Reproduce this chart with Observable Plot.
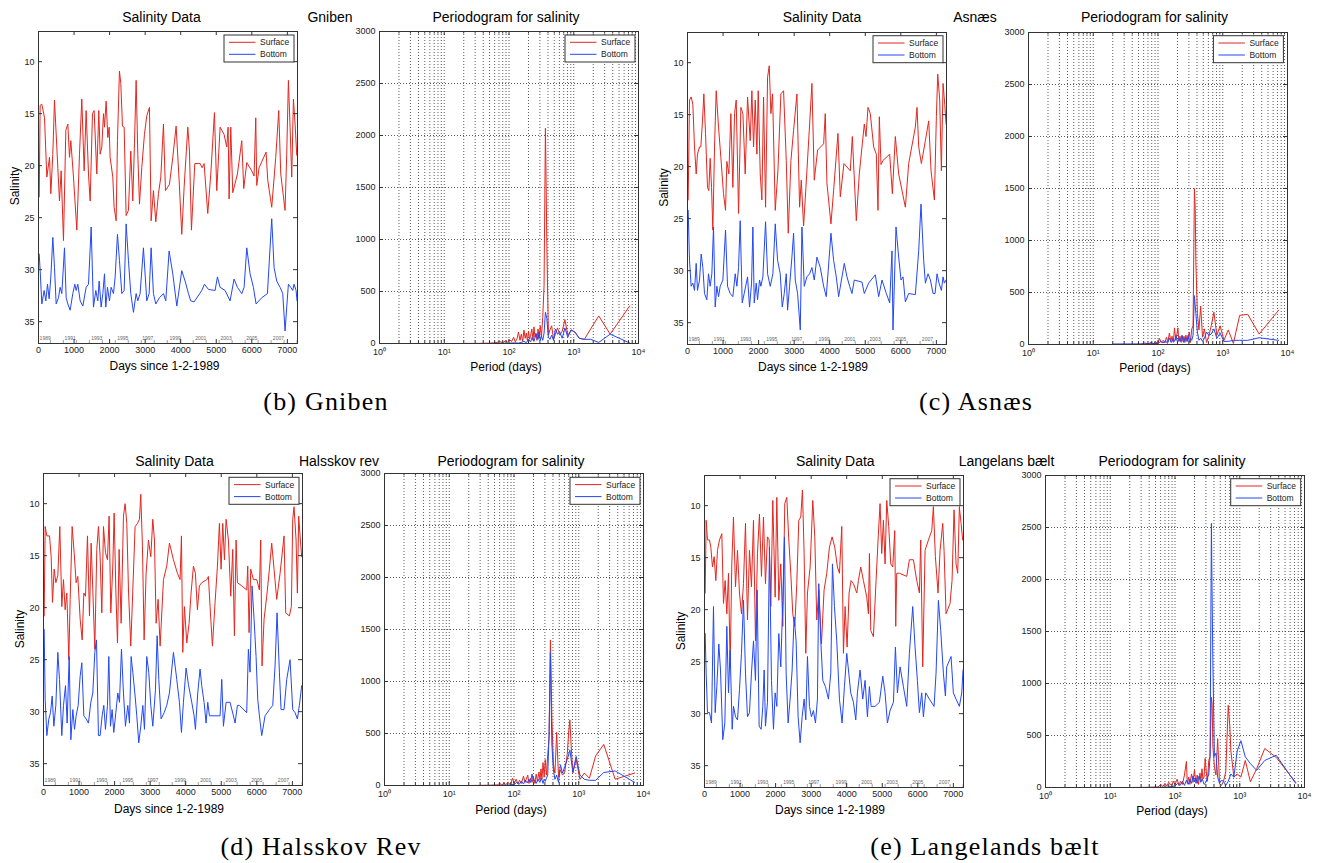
<!DOCTYPE html>
<html><head><meta charset="utf-8">
<script src="https://cdn.jsdelivr.net/npm/d3@7"></script>
<script src="https://cdn.jsdelivr.net/npm/@observablehq/plot@0.6"></script>
<style>
html,body{margin:0;padding:0;background:#fff;}
#root{position:relative;width:1317px;height:863px;overflow:hidden;background:#fff;}
.p{position:absolute;}
#overlay{position:absolute;left:0;top:0;pointer-events:none;}
</style></head><body><div id="root"></div>
<script>
// ---------- tick / label data ----------
const dayTicks = [0,1000,2000,3000,4000,5000,6000,7000];
const salTicks = [10,15,20,25,30,35];
const powerTicks = [0,500,1000,1500,2000,2500,3000];
const periodTicks = [1,10,100,1000,10000];
const periodTickLabels = ["10⁰","10¹","10²","10³","10⁴"];
const periodMinor = [2,3,4,5,6,7,8,9,20,30,40,50,60,70,80,90,200,300,400,500,600,700,800,900,2000,3000,4000,5000,6000,7000,8000,9000];
const yearStartDays = [334,699,1064,1430,1795,2160,2525,2891,3256,3621,3986,4352,4717,5082,5447,5813,6178,6543,6908,7274];
const yearLabels = ["1989","1991","1993","1995","1997","1999","2001","2003","2005","2007"];
const yearLabelDays = [188,891,1640,2371,3074,3843,4565,5277,5999,6748];
const seriesNames = ["Surface","Bottom"];

// ---------- Gniben ----------
const gnibenSurface = [[20,23.0],[47,14.2],[94,14.1],[169,15.4],[234,21.1],[310,19.2],[347,22.7],[403,18.9],[450,13.7],[515,18.2],[590,23.4],[637,20.5],[703,27.2],[769,16.6],[825,16.0],[872,19.2],[909,17.6],[984,21.1],[1078,26.2],[1153,18.9],[1218,13.6],[1284,20.5],[1340,14.7],[1406,20.8],[1453,23.4],[1518,15.0],[1565,14.7],[1640,20.8],[1696,14.7],[1734,18.9],[1781,18.2],[1828,15.0],[1856,16.3],[1903,13.8],[1950,17.3],[1987,16.3],[2015,19.2],[2090,21.1],[2127,24.0],[2184,25.3],[2221,17.6],[2277,10.9],[2315,12.1],[2362,16.2],[2409,16.3],[2465,24.8],[2530,24.3],[2596,18.6],[2652,23.4],[2699,17.9],[2746,11.8],[2793,18.9],[2840,23.7],[2905,20.2],[2980,17.0],[3046,15.2],[3121,14.4],[3168,25.3],[3233,22.4],[3299,25.4],[3374,22.7],[3440,21.1],[3515,16.0],[3571,22.4],[3683,21.8],[3777,19.2],[3871,16.2],[3955,21.4],[4030,26.6],[4096,22.1],[4199,16.3],[4246,18.6],[4302,26.2],[4396,19.8],[4546,19.8],[4602,20.2],[4658,19.8],[4761,24.6],[4846,20.8],[4949,14.9],[5014,22.4],[5108,16.3],[5220,17.0],[5295,18.2],[5333,16.3],[5361,23.2],[5408,16.3],[5464,22.6],[5595,20.8],[5717,17.6],[5773,22.2],[5858,19.7],[5998,20.5],[6064,21.0],[6111,15.4],[6139,21.9],[6204,20.2],[6401,18.7],[6448,21.4],[6560,24.0],[6673,19.2],[6757,14.7],[6814,20.8],[6935,24.3],[6982,18.9],[7029,11.8],[7076,16.3],[7123,21.1],[7170,13.6],[7217,16.0],[7264,19.0]];
const gnibenBottom = [[20,28.5],[47,30.1],[94,33.3],[159,32.0],[206,33.0],[253,31.4],[300,32.8],[347,30.7],[403,26.9],[450,29.8],[497,33.3],[562,32.7],[609,31.7],[656,32.3],[731,27.9],[778,32.7],[825,33.3],[890,33.9],[965,32.3],[1022,31.4],[1059,32.0],[1106,31.4],[1172,33.0],[1247,33.5],[1340,31.7],[1406,31.4],[1481,25.9],[1546,33.6],[1612,32.0],[1668,33.0],[1706,31.1],[1762,33.6],[1809,32.3],[1856,30.4],[1893,33.6],[1940,31.7],[1996,33.0],[2043,31.7],[2109,32.3],[2156,30.7],[2221,26.6],[2277,29.1],[2343,32.3],[2409,32.0],[2465,25.6],[2530,29.1],[2596,32.3],[2671,34.1],[2746,32.3],[2793,33.0],[2858,32.3],[2952,27.9],[3046,33.0],[3112,32.3],[3168,27.9],[3233,32.3],[3299,33.3],[3402,32.7],[3515,32.3],[3580,33.0],[3674,28.2],[3777,30.4],[3890,33.5],[4030,30.1],[4124,31.1],[4218,32.3],[4283,33.0],[4377,33.1],[4593,32.0],[4668,31.4],[4780,31.9],[4967,32.0],[5033,30.7],[5108,31.7],[5248,32.0],[5389,33.0],[5501,30.9],[5595,31.7],[5717,32.3],[5783,31.7],[5858,27.9],[5951,30.4],[6045,31.7],[6120,33.3],[6279,32.7],[6439,32.3],[6560,25.1],[6626,29.8],[6701,31.1],[6795,31.7],[6870,32.3],[6935,35.9],[6982,33.6],[7029,31.4],[7095,31.7],[7151,32.0],[7189,31.4],[7245,32.0],[7273,33.0]];
const gnibenPerSurface = [[20,1],[30,1],[40,2],[50,3],[57,5],[65,10],[72,18],[80,8],[88,25],[95,12],[102,35],[110,20],[118,60],[125,15],[133,45],[140,110],[148,30],[155,90],[163,20],[170,130],[178,50],[185,100],[193,25],[200,120],[208,40],[215,70],[225,140],[235,30],[243,160],[252,60],[261,100],[270,30],[281,140],[292,50],[304,170],[317,60],[332,250],[348,560],[365,2070],[372,1700],[384,950],[406,80],[429,130],[456,170],[487,40],[521,90],[562,150],[608,80],[664,120],[730,230],[811,80],[912,130],[1043,110],[1217,50],[1460,40],[1825,140],[2433,265],[3650,90],[7300,360]];
const gnibenPerBottom = [[20,0],[40,0],[60,1],[80,2],[100,3],[120,6],[140,4],[155,10],[170,20],[185,8],[200,40],[215,15],[228,60],[243,20],[261,90],[281,40],[292,110],[304,30],[317,70],[332,30],[348,100],[365,300],[384,240],[406,60],[429,40],[456,80],[487,30],[521,140],[562,90],[608,110],[664,50],[730,150],[811,60],[912,130],[1043,110],[1217,50],[1460,40],[1825,40],[2433,10],[3650,90],[7300,5]];

// ---------- Asnæs ----------
const asnaesSurface = [[19,23.2],[56,13.6],[103,13.3],[150,14.0],[197,18.1],[244,20.7],[281,18.8],[338,18.1],[375,18.1],[422,15.6],[460,13.0],[507,16.8],[563,22.0],[600,22.3],[638,19.2],[676,22.0],[713,26.1],[760,18.1],[807,12.7],[873,16.2],[938,19.1],[1013,22.6],[1070,24.2],[1107,19.5],[1163,20.7],[1220,14.9],[1276,22.0],[1323,14.9],[1370,13.6],[1436,24.5],[1501,14.3],[1558,14.9],[1623,20.7],[1689,13.3],[1764,17.5],[1811,12.7],[1858,18.1],[1905,13.6],[1952,18.8],[1989,12.7],[2046,20.7],[2092,23.2],[2139,13.3],[2196,23.9],[2252,11.4],[2299,10.3],[2346,14.9],[2393,13.0],[2468,24.2],[2543,20.4],[2627,13.0],[2702,12.7],[2778,19.4],[2834,26.4],[2909,19.4],[2984,16.5],[3078,13.0],[3153,23.9],[3200,21.3],[3265,25.7],[3331,22.0],[3425,16.5],[3500,12.0],[3566,21.3],[3660,18.4],[3829,17.8],[3875,14.9],[3922,21.6],[4035,25.5],[4110,22.3],[4232,16.8],[4298,22.9],[4401,19.7],[4579,20.4],[4636,17.1],[4748,25.2],[4832,20.7],[4917,17.8],[4973,15.9],[5020,17.1],[5077,14.3],[5142,14.9],[5236,18.1],[5311,18.8],[5358,24.2],[5396,15.2],[5443,19.8],[5499,19.4],[5687,18.8],[5762,22.6],[5846,17.1],[5940,20.7],[6128,23.9],[6221,19.7],[6409,16.2],[6456,14.3],[6503,18.1],[6578,19.7],[6691,17.5],[6784,15.6],[6850,20.4],[6944,23.2],[7000,15.2],[7038,11.1],[7094,13.6],[7141,20.4],[7188,12.0],[7235,14.0],[7273,15.9]];
const asnaesBottom = [[19,24.2],[56,29.0],[103,31.5],[150,31.2],[197,31.9],[244,29.3],[281,31.9],[338,30.9],[385,28.4],[432,29.7],[479,32.2],[544,32.8],[591,30.3],[638,31.5],[685,30.3],[732,25.8],[779,33.5],[826,31.5],[873,32.5],[920,31.5],[995,30.9],[1070,26.1],[1126,31.5],[1201,32.2],[1276,32.5],[1342,30.3],[1389,31.5],[1436,29.7],[1482,25.2],[1539,33.1],[1595,32.2],[1689,30.6],[1745,33.5],[1802,31.2],[1839,25.8],[1877,33.1],[1933,31.2],[1970,32.8],[2027,30.9],[2064,31.5],[2120,30.6],[2196,25.3],[2252,30.3],[2327,31.5],[2402,30.3],[2468,25.5],[2534,29.0],[2608,30.3],[2665,33.5],[2721,32.2],[2778,30.3],[2815,33.8],[2871,31.5],[2937,28.7],[2984,26.4],[3031,30.9],[3097,32.2],[3172,35.7],[3219,25.8],[3284,31.5],[3359,30.6],[3434,30.3],[3500,29.7],[3566,30.9],[3641,28.7],[3735,29.7],[3829,31.5],[3903,32.5],[4035,26.4],[4110,29.0],[4185,30.6],[4251,32.5],[4345,30.6],[4411,29.3],[4486,30.6],[4561,31.5],[4626,32.2],[4692,30.9],[4908,31.1],[4973,32.2],[5095,31.2],[5283,30.4],[5377,32.5],[5471,30.9],[5593,32.2],[5687,33.1],[5752,28.1],[5780,35.7],[5865,25.8],[5940,28.7],[6006,30.9],[6062,30.6],[6128,33.0],[6221,32.2],[6409,32.3],[6503,28.1],[6568,23.6],[6643,29.0],[6691,31.2],[6766,30.3],[6832,30.9],[6907,32.2],[6963,32.2],[7019,30.3],[7075,31.2],[7141,31.9],[7188,30.6],[7225,31.2],[7273,30.9]];
const asnaesPerSurface = [[20,0],[40,1],[55,3],[62,15],[70,5],[78,20],[85,8],[92,25],[100,10],[105,60],[112,20],[120,40],[128,15],[135,70],[142,25],[150,110],[158,30],[165,80],[172,20],[180,160],[188,40],[195,90],[203,160],[210,30],[218,80],[228,20],[235,80],[243,30],[252,80],[261,20],[270,90],[281,30],[292,70],[304,120],[317,20],[332,150],[348,180],[365,1500],[376,1300],[384,800],[406,300],[429,140],[456,370],[487,70],[521,150],[562,20],[608,80],[664,180],[730,310],[811,90],[912,180],[1043,40],[1217,140],[1460,10],[1825,280],[2433,290],[3650,100],[7300,330]];
const asnaesPerBottom = [[20,5],[40,5],[60,5],[80,8],[100,10],[110,30],[120,15],[130,40],[140,10],[150,60],[160,20],[170,50],[180,30],[190,90],[200,20],[210,60],[220,30],[235,90],[250,20],[265,70],[281,30],[292,90],[304,20],[317,60],[332,40],[348,90],[365,470],[384,300],[406,120],[429,40],[456,60],[487,30],[521,60],[562,120],[608,90],[664,100],[730,150],[811,60],[912,110],[1043,30],[1217,30],[1460,40],[1825,40],[2433,40],[3650,65],[7300,40]];

// ---------- Halsskov rev ----------
const halsskovSurface = [[19,20.8],[47,12.2],[94,13.1],[169,13.1],[216,15.1],[253,19.5],[300,16.3],[347,17.6],[403,16.9],[459,12.2],[515,19.9],[562,17.3],[609,20.2],[656,18.6],[712,25.0],[750,19.2],[806,12.2],[862,14.7],[918,17.6],[965,17.0],[1031,21.1],[1087,23.1],[1134,18.6],[1181,18.9],[1237,13.1],[1293,20.8],[1340,13.8],[1387,18.3],[1443,24.0],[1499,14.4],[1546,12.2],[1593,15.1],[1640,20.5],[1687,12.2],[1743,14.7],[1799,15.4],[1846,11.2],[1893,20.5],[1949,16.0],[1987,10.9],[2034,18.3],[2081,23.4],[2127,14.4],[2184,21.5],[2249,11.2],[2296,10.0],[2343,11.9],[2390,18.3],[2455,23.7],[2512,18.3],[2577,12.2],[2643,11.9],[2699,11.5],[2736,9.1],[2783,14.1],[2830,23.1],[2886,16.7],[2952,13.5],[3018,15.1],[3074,11.5],[3121,13.5],[3168,21.5],[3224,19.2],[3280,23.7],[3374,17.3],[3467,16.0],[3542,13.8],[3655,15.4],[3767,16.7],[3842,17.3],[3880,13.1],[3917,24.3],[3964,19.9],[4030,23.4],[4095,21.5],[4151,18.6],[4217,16.0],[4273,16.7],[4329,20.2],[4385,17.9],[4451,17.6],[4592,17.3],[4638,17.0],[4685,19.9],[4751,23.7],[4826,19.5],[4892,16.0],[4948,11.9],[4995,16.3],[5042,11.9],[5089,15.4],[5136,11.5],[5201,13.5],[5267,18.9],[5323,14.4],[5370,22.7],[5417,13.5],[5454,17.6],[5576,17.9],[5716,18.3],[5745,16.0],[5782,22.4],[5829,16.3],[5904,17.3],[5998,17.3],[6073,18.3],[6110,13.5],[6147,25.6],[6204,21.1],[6279,18.9],[6354,16.3],[6419,13.8],[6485,16.3],[6560,19.2],[6654,16.7],[6766,13.1],[6813,20.5],[6916,20.8],[6972,19.9],[7010,11.5],[7047,10.3],[7104,13.5],[7141,18.6],[7178,11.2],[7225,13.5],[7262,15.1]];
const halsskovBottom = [[19,22.1],[47,28.8],[94,32.3],[150,30.7],[197,30.1],[244,28.5],[291,31.4],[347,29.4],[403,24.3],[450,26.9],[515,32.3],[562,29.4],[619,27.5],[665,31.1],[722,24.7],[769,32.7],[825,29.8],[872,31.7],[918,30.4],[975,29.4],[1031,26.6],[1078,25.3],[1134,30.4],[1200,30.7],[1265,31.1],[1331,29.1],[1387,28.2],[1443,24.3],[1490,23.1],[1546,32.3],[1593,32.3],[1649,30.4],[1696,29.4],[1743,31.7],[1799,29.4],[1837,24.7],[1884,31.4],[1930,29.8],[1977,32.0],[2034,30.1],[2090,28.2],[2137,29.1],[2193,24.0],[2249,28.2],[2305,31.4],[2371,29.4],[2418,31.1],[2465,24.7],[2512,26.2],[2577,28.5],[2624,30.4],[2680,33.0],[2736,31.4],[2793,29.4],[2840,31.7],[2905,24.7],[2961,26.2],[3018,29.4],[3074,31.4],[3149,27.9],[3196,22.7],[3243,26.9],[3308,30.7],[3393,30.1],[3467,29.4],[3542,28.2],[3655,24.3],[3748,26.9],[3823,29.1],[3880,32.0],[3936,29.1],[4011,25.8],[4077,27.4],[4170,29.1],[4236,30.4],[4273,31.7],[4339,28.2],[4404,25.9],[4451,27.5],[4517,29.1],[4573,31.1],[4620,29.1],[4667,30.4],[4967,30.4],[5014,26.9],[5061,31.4],[5136,29.1],[5248,29.1],[5342,30.4],[5389,31.1],[5454,29.4],[5510,29.4],[5716,30.1],[5763,24.0],[5810,26.2],[5866,17.9],[5923,21.1],[5979,24.7],[6026,28.8],[6073,30.4],[6138,32.3],[6232,30.4],[6354,29.8],[6448,29.4],[6513,25.6],[6569,20.5],[6635,26.2],[6682,29.8],[6766,29.8],[6841,26.9],[6935,25.0],[7010,29.8],[7076,30.1],[7141,30.7],[7197,29.4],[7262,27.5]];
const halsskovPerSurface = [[20,0],[40,2],[55,5],[60,20],[65,5],[70,25],[75,8],[80,30],[88,10],[95,70],[100,20],[108,60],[115,15],[122,50],[130,20],[140,90],[148,30],[155,60],[163,100],[170,20],[180,70],[190,30],[200,80],[210,20],[220,110],[230,40],[243,130],[252,50],[261,160],[270,60],[281,220],[292,80],[304,250],[317,100],[332,300],[348,450],[365,1400],[384,660],[406,200],[429,120],[456,510],[487,80],[521,150],[562,100],[608,130],[664,300],[700,520],[730,630],[760,400],[811,120],[912,250],[1043,60],[1217,120],[1460,70],[1825,285],[2433,395],[3650,60],[7300,120]];
const halsskovPerBottom = [[20,0],[60,1],[80,3],[100,10],[110,30],[120,10],[130,40],[140,15],[150,50],[160,25],[170,60],[180,30],[190,110],[200,40],[210,50],[220,20],[235,60],[250,30],[265,70],[281,20],[292,60],[304,40],[317,70],[332,100],[348,500],[365,1280],[384,400],[406,150],[429,60],[456,100],[487,30],[521,200],[562,120],[608,180],[664,250],[730,340],[811,130],[912,280],[1043,100],[1217,60],[1460,50],[1825,50],[2433,125],[3650,140],[7300,30]];

// ---------- Langelands bælt ----------
const langelandSurface = [[19,18.4],[47,11.4],[84,13.3],[141,13.3],[178,14.0],[225,15.9],[272,14.9],[319,17.2],[365,14.3],[422,13.3],[487,12.7],[534,19.4],[581,17.2],[628,20.4],[675,16.5],[722,25.5],[768,15.6],[815,11.1],[872,17.8],[928,14.3],[984,18.4],[1040,20.4],[1096,17.5],[1153,11.7],[1209,21.0],[1265,14.3],[1321,17.8],[1378,11.4],[1434,23.0],[1490,14.6],[1546,10.8],[1602,16.8],[1659,11.1],[1715,17.5],[1771,13.0],[1818,13.3],[1865,19.7],[1921,9.5],[1987,18.8],[2034,9.2],[2090,19.1],[2146,15.6],[2202,21.6],[2258,9.8],[2315,9.2],[2371,13.3],[2427,16.5],[2483,20.4],[2540,21.6],[2596,17.5],[2652,11.4],[2708,11.1],[2755,8.5],[2802,14.6],[2849,24.2],[2896,18.4],[2971,15.9],[3046,9.5],[3102,13.0],[3158,21.0],[3215,18.1],[3289,23.3],[3364,18.1],[3439,16.5],[3514,14.0],[3589,13.0],[3664,14.0],[3739,15.9],[3795,16.5],[3861,12.0],[3908,24.2],[3955,19.7],[4011,23.6],[4067,18.4],[4123,17.2],[4189,17.5],[4283,18.4],[4329,17.2],[4395,15.9],[4470,17.2],[4564,18.8],[4611,20.4],[4639,14.6],[4676,22.0],[4751,22.6],[4826,17.2],[4882,13.3],[4938,9.8],[4985,14.6],[5032,11.4],[5079,15.6],[5126,9.5],[5182,12.0],[5239,15.6],[5295,15.9],[5351,12.4],[5379,21.6],[5407,16.5],[5482,16.5],[5688,16.8],[5763,15.2],[5876,15.2],[5970,17.2],[6045,18.4],[6082,13.3],[6138,25.5],[6204,14.3],[6298,13.3],[6392,12.4],[6438,10.1],[6494,14.9],[6569,18.4],[6626,14.3],[6701,11.7],[6738,14.3],[6794,20.4],[6907,19.4],[6963,17.2],[7019,10.4],[7075,15.6],[7122,16.5],[7169,10.1],[7216,11.7],[7262,13.3]];
const langelandBottom = [[19,22.3],[47,26.1],[84,29.9],[141,29.9],[197,30.9],[253,19.7],[300,29.9],[347,27.4],[403,23.3],[450,25.8],[515,32.5],[572,30.9],[628,21.6],[675,28.0],[722,23.9],[778,31.5],[815,29.3],[872,30.3],[928,30.6],[984,27.7],[1040,24.2],[1097,19.1],[1153,26.1],[1209,30.3],[1265,29.9],[1321,26.1],[1378,23.0],[1434,26.8],[1481,18.1],[1537,31.2],[1593,31.5],[1640,29.3],[1678,25.8],[1715,31.2],[1771,28.9],[1827,14.0],[1884,26.8],[1940,31.5],[1987,28.0],[2034,29.3],[2090,22.3],[2146,25.5],[2202,19.1],[2249,13.0],[2296,26.1],[2352,30.9],[2408,28.6],[2465,25.8],[2521,20.7],[2577,23.0],[2633,30.3],[2690,32.8],[2746,30.3],[2802,28.6],[2849,30.6],[2896,24.5],[2952,29.3],[3008,30.3],[3064,29.7],[3121,30.9],[3177,28.6],[3214,17.5],[3271,23.0],[3327,26.8],[3402,27.4],[3486,28.6],[3552,26.1],[3599,15.6],[3655,19.7],[3720,23.0],[3795,28.6],[3870,30.9],[3936,27.4],[4002,24.2],[4058,26.1],[4114,28.0],[4189,28.9],[4255,30.6],[4301,28.0],[4376,25.8],[4451,28.6],[4517,26.8],[4583,30.3],[4639,27.4],[4686,29.3],[4798,29.3],[4920,28.9],[5014,26.4],[5079,28.0],[5145,30.9],[5220,29.7],[5314,28.9],[5370,23.6],[5426,28.0],[5501,25.5],[5595,27.4],[5688,29.3],[5763,24.2],[5857,19.7],[5923,23.6],[5988,26.8],[6045,29.9],[6110,28.0],[6157,30.3],[6223,28.0],[6326,28.6],[6457,29.3],[6513,26.1],[6579,19.1],[6644,22.0],[6719,26.1],[6776,28.3],[6813,25.5],[6935,24.5],[7000,28.0],[7075,28.6],[7169,29.3],[7235,28.0],[7272,25.8]];
const langelandPerSurface = [[20,0],[40,1],[55,5],[60,30],[65,10],[70,40],[75,15],[80,50],[88,20],[95,60],[100,30],[108,80],[115,20],[122,60],[130,30],[140,120],[150,250],[155,40],[163,100],[170,30],[180,130],[190,50],[200,170],[210,40],[220,120],[230,30],[243,140],[252,60],[261,180],[270,80],[281,100],[292,280],[304,150],[317,60],[332,260],[348,300],[365,870],[375,800],[384,400],[406,200],[429,120],[456,470],[487,40],[521,20],[562,60],[608,150],[664,790],[700,600],[730,350],[811,100],[912,130],[1043,100],[1217,260],[1460,55],[1825,180],[2433,375],[3650,290],[7300,50]];
const langelandPerBottom = [[20,0],[60,2],[80,5],[100,15],[110,40],[120,20],[130,60],[140,20],[150,70],[160,30],[170,80],[180,40],[190,110],[200,60],[210,90],[220,40],[235,110],[250,50],[265,80],[281,30],[292,40],[304,60],[317,100],[332,120],[348,300],[365,2540],[372,1990],[384,1230],[406,300],[429,330],[456,100],[487,40],[521,70],[562,60],[608,20],[664,60],[730,130],[811,100],[912,350],[1043,450],[1217,295],[1460,230],[1825,165],[2433,260],[3650,310],[7300,40]];

// ---------- layout ----------
const RED = "#e5261f", BLUE = "#2347f5";
const FW = 259, FH = 312, ML = 45, MR = 12, MT = 10, MB = 30;
const FONT = "'Liberation Sans', Arial, Helvetica, sans-serif";
const root = document.getElementById("root");

function place(svg, L, T) {
  const d = document.createElement("div");
  d.className = "p";
  d.style.left = (L - ML) + "px";
  d.style.top = (T - MT) + "px";
  d.appendChild(svg);
  root.appendChild(d);
}

function salinityPlot(surface, bottom) {
  return Plot.plot({
    width: FW + ML + MR, height: FH + MT + MB,
    marginLeft: ML, marginRight: MR, marginTop: MT, marginBottom: MB,
    style: {background: "transparent", fontFamily: FONT, fontSize: "9px", color: "#222", overflow: "visible"},
    x: {domain: [0, 7285]},
    y: {domain: [7.1, 37.1], reverse: true},
    marks: [
      Plot.line(surface, {x: d => d[0], y: d => d[1], stroke: RED, strokeWidth: 1}),
      Plot.line(bottom, {x: d => d[0], y: d => d[1], stroke: BLUE, strokeWidth: 1}),
      Plot.tickX(yearStartDays, {x: d => d, insetTop: FH - 3, stroke: "#777", strokeWidth: 0.7}),
      Plot.text(yearLabels, {x: (d, i) => yearLabelDays[i], text: d => d, frameAnchor: "bottom", lineAnchor: "bottom", dy: -4, fontSize: 5, fill: "#666"}),
      Plot.tickX(dayTicks, {x: d => d, insetTop: FH - 4, stroke: "#333"}),
      Plot.tickX(dayTicks, {x: d => d, insetBottom: FH - 4, stroke: "#333"}),
      Plot.tickY(salTicks, {y: d => d, insetRight: FW - 4, stroke: "#333"}),
      Plot.tickY(salTicks, {y: d => d, insetLeft: FW - 4, stroke: "#333"}),
      Plot.axisX({ticks: dayTicks, tickSize: 0, tickPadding: 3, tickFormat: d => String(d), label: null}),
      Plot.axisY({ticks: salTicks, tickSize: 0, tickPadding: 4, tickFormat: d => String(d), label: null}),
      Plot.frame({stroke: "#333"})
    ]
  });
}

function periodogramPlot(surface, bottom) {
  return Plot.plot({
    width: FW + ML + MR, height: FH + MT + MB,
    marginLeft: ML, marginRight: MR, marginTop: MT, marginBottom: MB,
    style: {background: "transparent", fontFamily: FONT, fontSize: "9px", color: "#222", overflow: "visible"},
    x: {type: "log", domain: [1, 10000]},
    y: {domain: [0, 3000]},
    marks: [
      Plot.ruleX(periodMinor.concat([10, 100, 1000]), {x: d => d, stroke: "#333", strokeWidth: 0.8, strokeDasharray: "1,2"}),
      Plot.ruleY(powerTicks.slice(1, -1), {y: d => d, stroke: "#333", strokeWidth: 0.8, strokeDasharray: "1,2"}),
      Plot.line(surface, {x: d => d[0], y: d => d[1], stroke: RED, strokeWidth: 1}),
      Plot.line(bottom, {x: d => d[0], y: d => d[1], stroke: BLUE, strokeWidth: 1}),
      Plot.tickX(periodTicks, {x: d => d, insetTop: FH - 4, stroke: "#333"}),
      Plot.tickX(periodTicks, {x: d => d, insetBottom: FH - 4, stroke: "#333"}),
      Plot.tickX(periodMinor, {x: d => d, insetTop: FH - 2.5, stroke: "#333"}),
      Plot.tickX(periodMinor, {x: d => d, insetBottom: FH - 2.5, stroke: "#333"}),
      Plot.tickY(powerTicks, {y: d => d, insetRight: FW - 4, stroke: "#333"}),
      Plot.tickY(powerTicks, {y: d => d, insetLeft: FW - 4, stroke: "#333"}),
      Plot.axisX({ticks: periodTicks, tickSize: 0, tickPadding: 5, tickFormat: (d, i) => periodTickLabels[periodTicks.indexOf(d)], label: null}),
      Plot.axisY({ticks: powerTicks, tickSize: 0, tickPadding: 4, tickFormat: d => String(d), label: null}),
      Plot.frame({stroke: "#333"})
    ]
  });
}

const panels = [
  {sal: [38.3, 31], per: [379.3, 31], s: gnibenSurface, b: gnibenBottom, ps: gnibenPerSurface, pb: gnibenPerBottom},
  {sal: [687.3, 31.7], per: [1027.7, 31.7], s: asnaesSurface, b: asnaesBottom, ps: asnaesPerSurface, pb: asnaesPerBottom},
  {sal: [43.3, 473.3], per: [384.3, 473.3], s: halsskovSurface, b: halsskovBottom, ps: halsskovPerSurface, pb: halsskovPerBottom},
  {sal: [704.3, 474.7], per: [1045, 474.7], s: langelandSurface, b: langelandBottom, ps: langelandPerSurface, pb: langelandPerBottom}
];
for (const p of panels) {
  place(salinityPlot(p.s, p.b), p.sal[0], p.sal[1]);
  place(periodogramPlot(p.ps, p.pb), p.per[0], p.per[1]);
}

// ---------- overlay text ----------
const svg = d3.select(root).append("svg").attr("id", "overlay").attr("width", 1317).attr("height", 863)
  .attr("font-family", FONT);

function txt(s, x, y, size, opts = {}) {
  const t = svg.append("text").attr("x", x).attr("y", y).attr("font-size", size)
    .attr("text-anchor", opts.anchor || "middle").attr("fill", opts.fill || "#000").text(s);
  if (opts.family) t.attr("font-family", opts.family);
  if (opts.weight) t.attr("font-weight", opts.weight);
  if (opts.ls) t.attr("letter-spacing", opts.ls);
  return t;
}
function vtxt(s, x, y, size) {
  svg.append("text").attr("transform", `translate(${x},${y}) rotate(-90)`).attr("font-size", size)
    .attr("text-anchor", "middle").attr("fill", "#000").text(s);
}
function legend(frameR, frameT) {
  const x = frameR - 73.3, y = frameT + 4;
  svg.append("rect").attr("x", x).attr("y", y).attr("width", 70).attr("height", 27)
    .attr("fill", "#fff").attr("stroke", "#333").attr("stroke-width", 1);
  svg.append("line").attr("x1", x + 5).attr("x2", x + 31.5).attr("y1", y + 7.3).attr("y2", y + 7.3).attr("stroke", RED);
  svg.append("line").attr("x1", x + 5).attr("x2", x + 31.5).attr("y1", y + 19.3).attr("y2", y + 19.3).attr("stroke", BLUE);
  txt(seriesNames[0], x + 36, y + 10.3, 8.5, {anchor: "start", fill: "#222"});
  txt(seriesNames[1], x + 36, y + 22.3, 8.5, {anchor: "start", fill: "#222"});
}

const stations = ["Gniben", "Asnæs", "Halsskov rev", "Langelans bælt"];
const captions = ["(b) Gniben", "(c) Asnæs", "(d) Halsskov Rev", "(e) Langelands bælt"];

const textLayout = [
  {salT: 161.5, perT: 506, stn: 330, ty: 21.5, salX: 164.5, perX: 506, xy: 369.5, yl: [19, 186], cap: [326, 410]},
  {salT: 822, perT: 1154.5, stn: 975, ty: 21.5, salX: 813, perX: 1155, xy: 371, yl: [667.5, 187.5], cap: [976, 410]},
  {salT: 174.5, perT: 511, stn: 339, ty: 465.5, salX: 169, perX: 511, xy: 813, yl: [24, 629], cap: [321, 855]},
  {salT: 835.3, perT: 1172, stn: 1006.5, ty: 466, salX: 830, perX: 1172, xy: 814, yl: [684.5, 631], cap: [985, 855]}
];

panels.forEach((p, i) => {
  const t = textLayout[i];
  legend(p.sal[0] + FW, p.sal[1]);
  legend(p.per[0] + FW, p.per[1]);
  txt("Salinity Data", t.salT, t.ty, 14);
  txt("Periodogram for salinity", t.perT, t.ty, 14);
  txt(stations[i], t.stn, t.ty, 14);
  txt("Days since 1-2-1989", t.salX, t.xy, 12);
  txt("Period (days)", t.perX, t.xy + 1, 12);
  vtxt("Salinity", t.yl[0], t.yl[1], 12);
  txt(captions[i], t.cap[0], t.cap[1], 26, {family: "'Liberation Serif', 'Times New Roman', serif", ls: "1.2px"});
});
</script></body></html>
